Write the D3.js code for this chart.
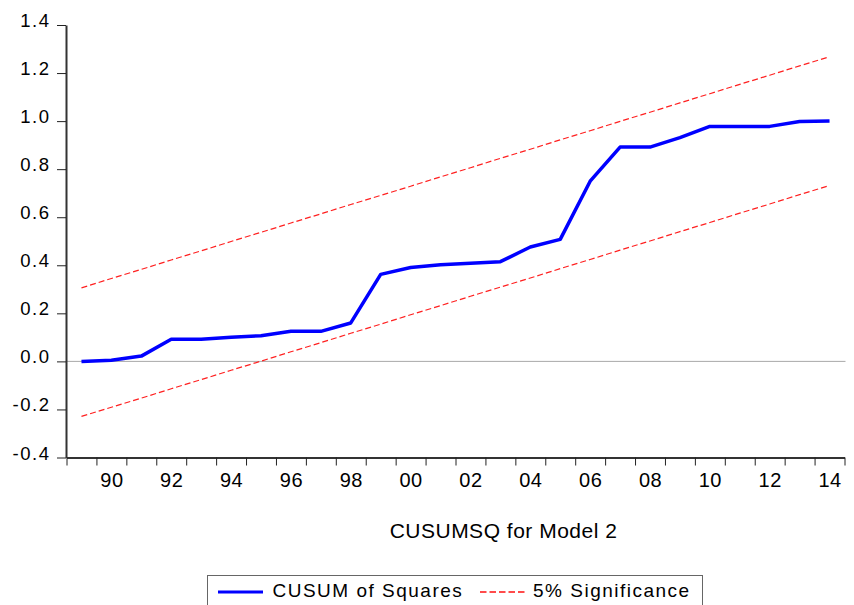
<!DOCTYPE html>
<html>
<head>
<meta charset="utf-8">
<script src="https://cdn.jsdelivr.net/npm/d3@7"></script>
<style>
  html, body { margin: 0; padding: 0; background: #fff; }
  svg { display: block; font-family: "Liberation Sans", Arial, sans-serif; }
</style>
</head>
<body>
<svg id="chart" width="854" height="605"></svg>
<script>
// Observation years
const years = [1989, 1990, 1991, 1992, 1993, 1994, 1995, 1996, 1997, 1998, 1999, 2000, 2001,
               2002, 2003, 2004, 2005, 2006, 2007, 2008, 2009, 2010, 2011, 2012, 2013, 2014];

// CUSUM of squares statistic
const cusumSq = [0.000, 0.005, 0.022, 0.092, 0.092, 0.100, 0.107, 0.125, 0.125, 0.160, 0.362, 0.391, 0.402,
                 0.408, 0.415, 0.476, 0.508, 0.750, 0.892, 0.892, 0.931, 0.978, 0.978, 0.978, 0.998, 1.000];

// 5% significance bounds
const upperBound = [0.306, 0.345, 0.383, 0.422, 0.460, 0.499, 0.537, 0.576, 0.614, 0.653, 0.691, 0.729, 0.768,
                    0.806, 0.845, 0.883, 0.922, 0.960, 0.999, 1.037, 1.076, 1.114, 1.153, 1.191, 1.230, 1.268];
const lowerBound = [-0.229, -0.191, -0.153, -0.114, -0.076, -0.037, 0.001, 0.040, 0.078, 0.117, 0.155, 0.194, 0.232,
                    0.271, 0.309, 0.347, 0.386, 0.424, 0.463, 0.501, 0.540, 0.578, 0.617, 0.655, 0.694, 0.732];

// Axis ticks
const yTicks = [-0.4, -0.2, 0.0, 0.2, 0.4, 0.6, 0.8, 1.0, 1.2, 1.4];
const xLabelYears = [1990, 1992, 1994, 1996, 1998, 2000, 2002, 2004, 2006, 2008, 2010, 2012, 2014];

const title = "CUSUMSQ for Model 2";
const legendNames = ["CUSUM of Squares", "5% Significance"];

(function draw() {
  const svg = d3.select("#chart");
  const plotLeft = 66, plotRight = 844.5, plotTop = 25, plotBottom = 457.5;

  const x = d3.scaleLinear()
    .domain([years[0] - 0.5, years[years.length - 1] + 0.5])
    .range([plotLeft + 0.5, plotRight]);
  const y = d3.scaleLinear().domain([-0.4, 1.4]).range([plotBottom, plotTop]);

  // zero reference line
  svg.append("line")
    .attr("x1", plotLeft).attr("x2", plotRight + 1)
    .attr("y1", y(0)).attr("y2", y(0))
    .attr("stroke", "#a8a8a8").attr("stroke-width", 1);

  // bottom axis: tick marks at year boundaries
  const boundaries = years.map(d => d - 0.5).concat([years[years.length - 1] + 0.5]);
  const xTickAxis = svg.append("g")
    .attr("transform", `translate(0,${plotBottom})`)
    .call(d3.axisBottom(x).tickValues(boundaries).tickSize(8).tickSizeOuter(0).tickFormat(""));
  xTickAxis.select(".domain").attr("stroke", "#333").attr("stroke-width", 2);
  xTickAxis.selectAll(".tick line").attr("stroke", "#222").attr("stroke-width", 1);

  // bottom axis labels, centred on each year
  const xLabelAxis = svg.append("g")
    .attr("transform", `translate(0,${plotBottom})`)
    .call(d3.axisBottom(x).tickValues(xLabelYears).tickSize(0)
      .tickFormat(d => String(d % 100).padStart(2, "0")));
  xLabelAxis.select(".domain").remove();
  xLabelAxis.selectAll("text")
    .attr("y", 29).attr("dy", 0)
    .attr("fill", "#000")
    .style("font-size", "20px")
    .style("letter-spacing", "0.5px")
    .style("font-family", "'Liberation Sans', Arial, sans-serif");

  // left axis (plain hyphen for negatives)
  const yAxis = svg.append("g")
    .attr("transform", `translate(${plotLeft},0)`)
    .call(d3.axisLeft(y).tickValues(yTicks).tickSize(9).tickPadding(6.5).tickSizeOuter(0)
      .tickFormat(d => d.toFixed(1)));
  yAxis.select(".domain").attr("stroke", "#333").attr("stroke-width", 2);
  yAxis.selectAll(".tick line").attr("stroke", "#222").attr("stroke-width", 1);
  yAxis.selectAll("text")
    .attr("dy", 1.5)
    .attr("fill", "#000")
    .style("font-size", "18.5px")
    .style("letter-spacing", "1.5px")
    .style("font-family", "'Liberation Sans', Arial, sans-serif");

  // series
  const line = vals => d3.line()
    .x((d, i) => x(years[i]))
    .y(d => y(d))(vals);

  svg.append("path")
    .attr("d", line(upperBound))
    .attr("fill", "none").attr("stroke", "#ff2020").attr("stroke-width", 1.2)
    .attr("stroke-dasharray", "6,3");
  svg.append("path")
    .attr("d", line(lowerBound))
    .attr("fill", "none").attr("stroke", "#ff2020").attr("stroke-width", 1.2)
    .attr("stroke-dasharray", "6,3");
  svg.append("path")
    .attr("d", line(cusumSq))
    .attr("fill", "none").attr("stroke", "#0000ff").attr("stroke-width", 3.5)
    .attr("stroke-linejoin", "round");

  // title
  svg.append("text")
    .attr("x", 503.5).attr("y", 538)
    .attr("text-anchor", "middle")
    .style("font-size", "21px")
    .style("letter-spacing", "0.5px")
    .text(title);

  // legend
  const lg = svg.append("g");
  lg.append("rect")
    .attr("x", 207.5).attr("y", 575.5).attr("width", 495).attr("height", 40)
    .attr("fill", "#fff").attr("stroke", "#666").attr("stroke-width", 1);
  lg.append("line")
    .attr("x1", 218).attr("x2", 263).attr("y1", 592).attr("y2", 592)
    .attr("stroke", "#0000ff").attr("stroke-width", 3);
  lg.append("text")
    .attr("x", 272.5).attr("y", 596.5)
    .style("font-size", "19px").style("letter-spacing", "1.5px")
    .text(legendNames[0]);
  lg.append("line")
    .attr("x1", 480).attr("x2", 525).attr("y1", 592).attr("y2", 592)
    .attr("stroke", "#ff1010").attr("stroke-width", 1.6)
    .attr("stroke-dasharray", "6.5,3");
  lg.append("text")
    .attr("x", 533).attr("y", 596.5)
    .style("font-size", "19px").style("letter-spacing", "1.5px")
    .text(legendNames[1]);
})();
</script>
</body>
</html>
